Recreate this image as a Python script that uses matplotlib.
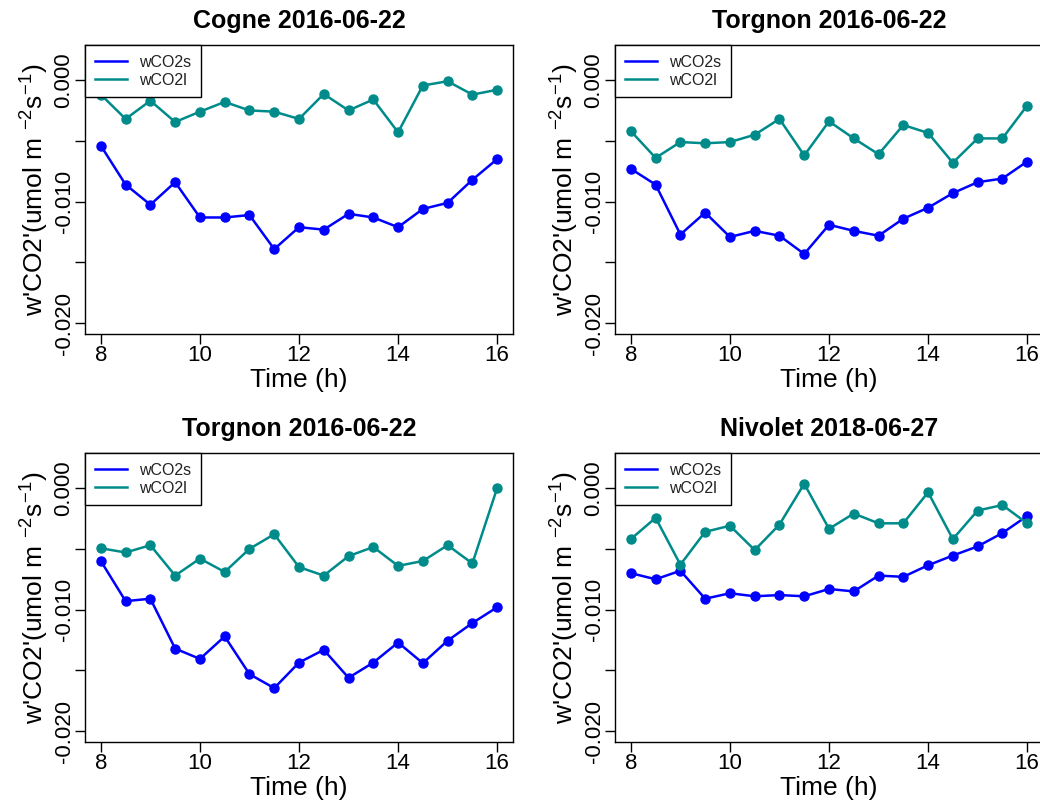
import numpy as np
import matplotlib.pyplot as plt

plt.rcParams['font.family'] = ['Liberation Sans', 'DejaVu Sans']
plt.rcParams['mathtext.fontset'] = 'custom'
plt.rcParams['mathtext.rm'] = 'Liberation Sans'
plt.rcParams['mathtext.it'] = 'Liberation Sans'
plt.rcParams['mathtext.default'] = 'regular'

# =============================================================================
# DATA
# =============================================================================

hours = [8, 8.5, 9, 9.5, 10, 10.5, 11, 11.5, 12, 12.5, 13, 13.5, 14, 14.5, 15, 15.5, 16]

titles = ['Cogne 2016-06-22', 'Torgnon 2016-06-22', 'Torgnon 2016-06-22', 'Nivolet 2018-06-27']

cogne_s = [-5.4, -8.6, -10.25, -8.4, -11.3, -11.3, -11.1, -13.9, -12.1, -12.3,
           -11.0, -11.3, -12.1, -10.6, -10.1, -8.2, -6.5]
cogne_l = [-1.2, -3.2, -1.7, -3.45, -2.6, -1.8, -2.5, -2.6, -3.2, -1.15,
           -2.5, -1.6, -4.3, -0.45, -0.1, -1.2, -0.8]

torgnon1_s = [-7.3, -8.6, -12.7, -10.9, -12.9, -12.4, -12.8, -14.3, -11.9, -12.4,
              -12.8, -11.4, -10.5, -9.3, -8.4, -8.1, -6.7]
torgnon1_l = [-4.2, -6.4, -5.1, -5.2, -5.1, -4.5, -3.2, -6.2, -3.4, -4.8,
              -6.1, -3.7, -4.35, -6.8, -4.8, -4.8, -2.1]

torgnon2_s = [-6.0, -9.3, -9.1, -13.2, -14.05, -12.2, -15.3, -16.45, -14.35, -13.3,
              -15.6, -14.35, -12.7, -14.4, -12.55, -11.1, -9.8]
torgnon2_l = [-4.95, -5.3, -4.7, -7.2, -5.8, -6.9, -5.0, -3.8, -6.5, -7.2,
              -5.6, -4.85, -6.4, -6.0, -4.7, -6.2, 0.0]

nivolet_s = [-7.0, -7.5, -6.8, -9.1, -8.65, -8.9, -8.8, -8.9, -8.3, -8.5,
             -7.2, -7.3, -6.35, -5.55, -4.8, -3.7, -2.3]
nivolet_l = [-4.2, -2.45, -6.3, -3.6, -3.1, -5.1, -3.0, 0.35, -3.35, -2.1,
             -2.9, -2.9, -0.35, -4.2, -1.85, -1.4, -2.9]

series_s = [cogne_s, torgnon1_s, torgnon2_s, nivolet_s]
series_l = [cogne_l, torgnon1_l, torgnon2_l, nivolet_l]

# =============================================================================
# FIGURE
# =============================================================================

fig = plt.figure(figsize=(10.4, 8.01), dpi=100)

W, H = 1040.0, 801.0
boxes = [(85, 45), (615, 45), (85, 453), (615, 453)]
aw, ah = 428, 289

for i in range(4):
    x0, y0 = boxes[i]
    ax = fig.add_axes([x0 / W, 1 - (y0 + ah) / H, aw / W, ah / H])
    s = np.array(series_s[i]) / 1000.0
    l = np.array(series_l[i]) / 1000.0
    ax.plot(hours, s, color='#0000FF', lw=1.8, marker='o', ms=6.5, label='wCO2s')
    ax.plot(hours, l, color='#008B8B', lw=1.8, marker='o', ms=6.5, label='wCO2l')

    ax.set_xlim(7.68, 16.32)
    ax.set_ylim(-0.02088, 0.00288)
    ax.set_xticks([8, 10, 12, 14, 16])
    ax.set_yticks([-0.02, -0.015, -0.01, -0.005, 0.0])
    ax.set_yticklabels(['-0.020', '', '-0.010', '', '0.000'],
                       rotation=90, va='center')
    ax.tick_params(axis='both', direction='out', length=7, width=1, labelsize=16)
    ax.tick_params(axis='x', pad=1)
    ax.tick_params(axis='y', pad=0.5)
    for sp in ax.spines.values():
        sp.set_linewidth(1)

    ax.set_title(titles[i], fontsize=18, fontweight='bold', pad=12)
    ax.set_xlabel('Time (h)', fontsize=19, labelpad=1)
    ax.set_ylabel(r"w'CO2'(umol m $^{-2}$s$^{-1}$)", fontsize=19, labelpad=2)

    leg = ax.legend(loc='upper left', fontsize=11.5, frameon=True, fancybox=False,
                    borderaxespad=0, handlelength=2.0, handletextpad=0.8,
                    borderpad=0.6, labelspacing=0.2)
    for h in leg.legend_handles:
        h.set_marker('')
    for t in leg.get_texts():
        t.set_color('#222222')
    leg.get_frame().set_edgecolor('black')
    leg.get_frame().set_linewidth(1)
    leg.get_frame().set_alpha(1)

plt.savefig('out.png', dpi=100)
